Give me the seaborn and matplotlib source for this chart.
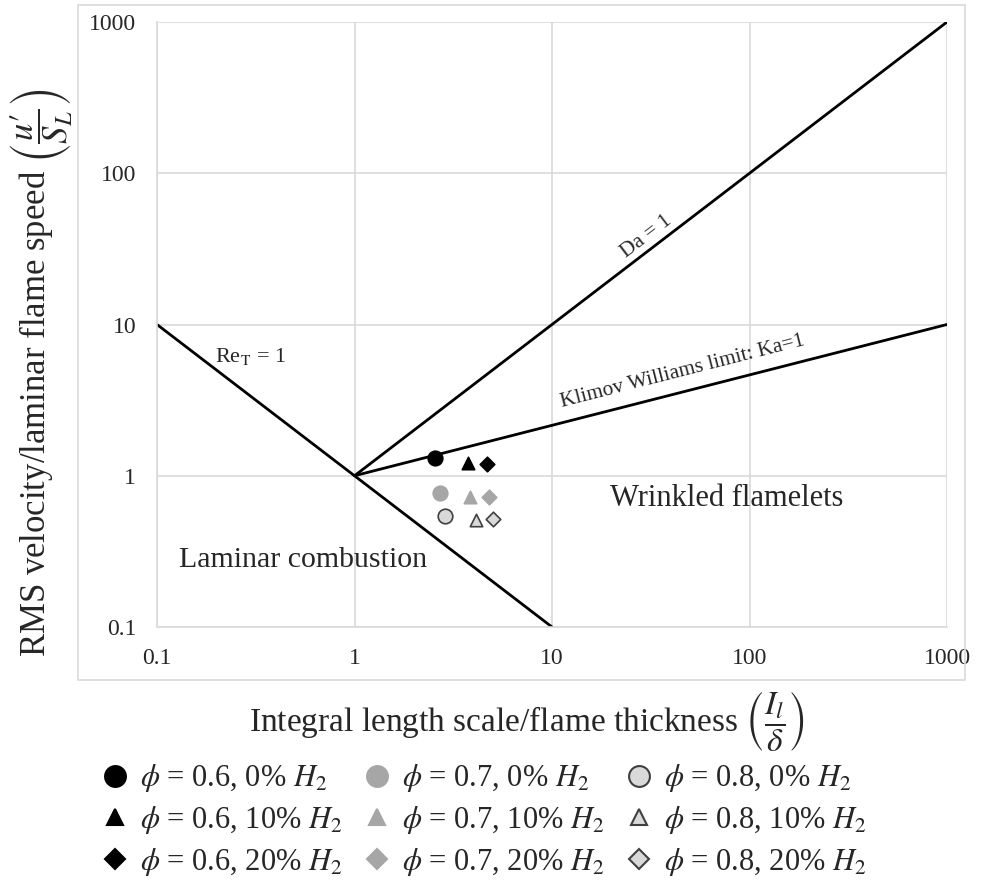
import matplotlib
matplotlib.use("Agg")
import matplotlib.pyplot as plt
from matplotlib.lines import Line2D
from matplotlib.patches import Rectangle
import seaborn as sns
import pandas as pd

# ---- data ----
labels = [r"$\phi$ = 0.6, 0% $H_2$", r"$\phi$ = 0.6, 10% $H_2$", r"$\phi$ = 0.6, 20% $H_2$",
          r"$\phi$ = 0.7, 0% $H_2$", r"$\phi$ = 0.7, 10% $H_2$", r"$\phi$ = 0.7, 20% $H_2$",
          r"$\phi$ = 0.8, 0% $H_2$", r"$\phi$ = 0.8, 10% $H_2$", r"$\phi$ = 0.8, 20% $H_2$"]
length_ratio = [2.56, 3.76, 4.69, 2.71, 3.85, 4.80, 2.87, 4.12, 5.02]
velocity_ratio = [1.31, 1.21, 1.20, 0.77, 0.72, 0.72, 0.54, 0.51, 0.52]

ret_x = [0.1, 10]
ret_y = [10, 0.1]
da_x = [1, 1000]
da_y = [1, 1000]
ka_x = [1, 1000]
ka_y = [1, 10]

xticks = [0.1, 1, 10, 100, 1000]
yticks = [0.1, 1, 10, 100, 1000]
tick_labels = ["0.1", "1", "10", "100", "1000"]

# ---- style ----
sns.set_style("white")
plt.rcParams["font.family"] = ["Liberation Serif", "DejaVu Serif"]
plt.rcParams["mathtext.fontset"] = "stix"

markers = ["o", "^", "D"] * 3
faces = ["black"] * 3 + ["#A6A6A6"] * 3 + ["#D9D9D9"] * 3
edges = ["black"] * 3 + ["#A6A6A6"] * 3 + ["#404040"] * 3
sizes = [110, 80, 55] * 3

fig = plt.figure(figsize=(9.83, 8.8), dpi=100)
ax = fig.add_axes([157 / 983, 1 - 627 / 880, (947 - 157) / 983, (627 - 22) / 880])

for xs, ys in [(ret_x, ret_y), (da_x, da_y), (ka_x, ka_y)]:
    sns.lineplot(x=xs, y=ys, ax=ax, color="black", lw=2.0, sort=False, estimator=None)

df = pd.DataFrame({"x": length_ratio, "y": velocity_ratio, "label": labels})
handles = []
for i, row in df.iterrows():
    sns.scatterplot(x=[row.x], y=[row.y], ax=ax, marker=markers[i], s=sizes[i],
                    color=faces[i], edgecolor=edges[i], linewidth=1.2, zorder=5)
    handles.append(Line2D([], [], ls="none", marker=markers[i], markersize=[15, 12, 10][i % 3],
                          markerfacecolor=faces[i], markeredgecolor=edges[i], markeredgewidth=1.5))

ax.set_xscale("log")
ax.set_yscale("log")
ax.set_xlim(0.1, 1000)
ax.set_ylim(0.1, 1000)
ax.set_xticks(xticks)
ax.set_xticklabels(tick_labels)
ax.set_yticks(yticks)
ax.set_yticklabels(tick_labels)
ax.minorticks_off()
ax.tick_params(axis="both", labelsize=17, length=0)
ax.tick_params(axis="x", pad=15)
ax.tick_params(axis="y", pad=15)
ax.grid(True, which="major", color="#D9D9D9", lw=1.2)
for side in ["top", "right"]:
    ax.spines[side].set_visible(False)
for side in ["left", "bottom"]:
    ax.spines[side].set_color("#D9D9D9")
    ax.spines[side].set_linewidth(1.2)

ax.set_xlabel(r"Integral length scale/flame thickness $\left(\dfrac{I_l}{\delta}\right)$",
              fontsize=24)
ax.set_ylabel(r"RMS velocity/laminar flame speed $\left(\dfrac{u\prime}{S_L}\right)$",
              fontsize=25)
ax.xaxis.set_label_coords(0.468, -0.102)
ax.yaxis.set_label_coords(-0.104, 0.42)

ax.text(0.197, 6.1, r"Re$_\mathrm{T}$ = 1", fontsize=16, ha="left", va="center")
ax.text(30, 38, "Da = 1", fontsize=15.5, ha="center", va="center", rotation=37.4,
        rotation_mode="anchor")
ax.text(46, 4.85, "Klimov Williams limit: Ka=1", fontsize=15.3, ha="center", va="center",
        rotation=14.3, rotation_mode="anchor")
ax.text(77, 0.71, "Wrinkled flamelets", fontsize=22, ha="center", va="center")
ax.text(0.55, 0.277, "Laminar combustion", fontsize=21.5, ha="center", va="center")

fig.legend(handles, labels, loc="center", bbox_to_anchor=(0.49, 0.068), ncol=3,
           frameon=False, fontsize=22, handletextpad=0.2, columnspacing=0.55,
           labelspacing=0.32, handlelength=1.2)

fig.patches.append(Rectangle((78 / 983, 1 - 680 / 880), (965 - 78) / 983, (680 - 5) / 880,
                             transform=fig.transFigure, fill=False, edgecolor="#D9D9D9", lw=1.2))

fig.savefig("out.png", dpi=100)
